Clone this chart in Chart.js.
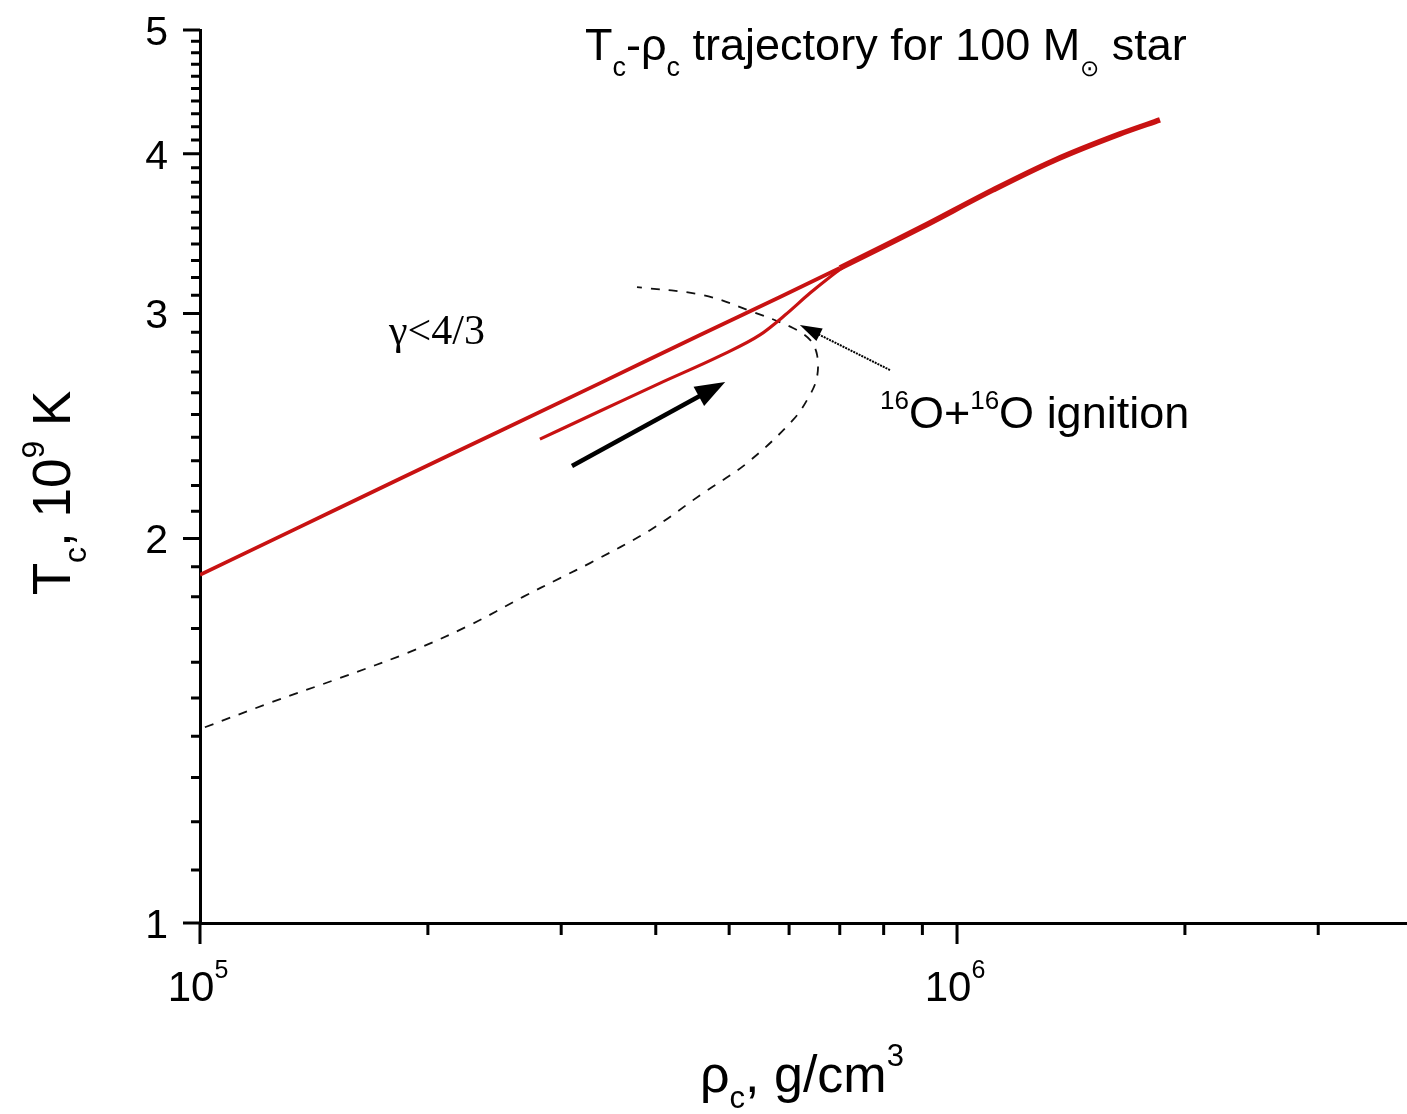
<!DOCTYPE html>
<html>
<head>
<meta charset="utf-8">
<title>Tc-rho_c trajectory</title>
<script src="https://cdn.jsdelivr.net/npm/chart.js@4.4.1/dist/chart.umd.min.js"></script>
<style>
  html, body { margin: 0; padding: 0; background: #ffffff; }
  #wrap { width: 1407px; height: 1114px; }
</style>
</head>
<body>
<div id="wrap"><canvas id="chart" width="1407" height="1114"></canvas></div>
<script>
"use strict";

// Central density (g/cm^3) and central temperature (10^9 K) along the main track
const trackRho = [1.0e5, 1.355e5, 1.837e5, 2.491e5, 3.377e5, 4.576e5, 5.837e5, 7.004e5, 8.936e5, 1.116e6, 1.339e6, 1.642e6, 1.854e6];
const trackT = [1.873, 2.042, 2.227, 2.427, 2.646, 2.886, 3.090, 3.256, 3.499, 3.748, 3.949, 4.146, 4.252];

// Second branch that rejoins the track near the ignition point
const loopRho = [2.812e5, 3.377e5, 4.053e5, 4.863e5, 5.491e5, 5.927e5, 6.395e5, 6.795e5, 7.112e5];
const loopT = [2.392, 2.516, 2.646, 2.779, 2.886, 2.991, 3.112, 3.204, 3.268];

// Boundary of the gamma < 4/3 region (dashed)
const gammaRho = [1.015e5, 1.237e5, 1.53e5, 1.894e5, 2.274e5, 2.671e5, 2.99e5, 3.275e5, 3.931e5, 4.618e5, 5.28e5, 6.072e5, 6.395e5, 6.533e5, 6.533e5, 6.395e5, 6.072e5, 5.377e5, 4.618e5, 3.778e5];
const gammaT = [1.423, 1.487, 1.555, 1.63, 1.711, 1.8, 1.862, 1.913, 2.03, 2.17, 2.291, 2.476, 2.591, 2.676, 2.784, 2.86, 2.922, 3.008, 3.101, 3.146];

// Axis ticks
const yMajorTicks = [1, 2, 3, 4, 5];
const xMajorTicks = [1e5, 1e6];
const xMajorExponents = ["5", "6"];
const xMinorTicks = [2e5, 3e5, 4e5, 5e5, 6e5, 7e5, 8e5, 9e5, 2e6, 3e6];

// Arrows, [rho, T] at tail and tip
const driftArrow = { from: [3.10e5, 2.279], to: [4.94e5, 2.651] };
const ignitionArrow = { from: [8.155e5, 2.709], to: [6.2e5, 2.938] };

const RED = "#c81212";
const SANS = '"Liberation Sans", Arial, sans-serif';
const SERIF = '"Liberation Serif", "Times New Roman", serif';

const toPoints = (xs, ys) => xs.map((v, i) => ({ x: v, y: ys[i] }));

// Draws a run of text pieces: [text, size factor, baseline shift in em]
function drawRich(ctx, x0, y0, parts, size, family, align) {
  const widths = parts.map((p) => {
    ctx.font = `${Math.round(size * p[1])}px ${family}`;
    return ctx.measureText(p[0]).width;
  });
  const total = widths.reduce((a, b) => a + b, 0);
  let x = x0;
  if (align === "center") x = x0 - total / 2;
  if (align === "right") x = x0 - total;
  parts.forEach((p, i) => {
    ctx.font = `${Math.round(size * p[1])}px ${family}`;
    ctx.fillText(p[0], x, y0 + p[2] * size);
    x += widths[i];
  });
}

function drawArrow(ctx, x0, y0, x1, y1, lineW, headLen, headHalf, dash) {
  const a = Math.atan2(y1 - y0, x1 - x0);
  const bx = x1 - headLen * Math.cos(a);
  const by = y1 - headLen * Math.sin(a);
  ctx.save();
  ctx.strokeStyle = "#000";
  ctx.fillStyle = "#000";
  ctx.lineWidth = lineW;
  ctx.setLineDash(dash || []);
  ctx.beginPath();
  ctx.moveTo(x0, y0);
  ctx.lineTo(bx + 2 * Math.cos(a), by + 2 * Math.sin(a));
  ctx.stroke();
  ctx.setLineDash([]);
  ctx.beginPath();
  ctx.moveTo(x1, y1);
  ctx.lineTo(bx + headHalf * Math.sin(a), by - headHalf * Math.cos(a));
  ctx.lineTo(bx - headHalf * Math.sin(a), by + headHalf * Math.cos(a));
  ctx.closePath();
  ctx.fill();
  ctx.restore();
}

const decorations = {
  id: "decorations",
  afterDraw(chart) {
    const { ctx } = chart;
    const x = chart.scales.x;
    const y = chart.scales.y;
    const left = chart.chartArea.left;
    const bottom = chart.chartArea.bottom;

    ctx.save();
    ctx.strokeStyle = "#000";
    ctx.lineWidth = 3;
    ctx.beginPath();
    // y ticks: majors plus nine minors per unit
    yMajorTicks.forEach((v, i) => {
      const py = y.getPixelForValue(v);
      ctx.moveTo(left - 17, py);
      ctx.lineTo(left, py);
      if (i < yMajorTicks.length - 1) {
        for (let k = 1; k < 10; k++) {
          const my = y.getPixelForValue(v + k / 10);
          ctx.moveTo(left - 9, my);
          ctx.lineTo(left, my);
        }
      }
    });
    xMajorTicks.forEach((v) => {
      const px = x.getPixelForValue(v);
      ctx.moveTo(px, bottom);
      ctx.lineTo(px, bottom + 21);
    });
    xMinorTicks.forEach((v) => {
      const px = x.getPixelForValue(v);
      ctx.moveTo(px, bottom);
      ctx.lineTo(px, bottom + 12);
    });
    ctx.stroke();

    ctx.fillStyle = "#000";
    ctx.textBaseline = "alphabetic";

    // tick labels
    ctx.font = `41px ${SANS}`;
    ctx.textAlign = "right";
    yMajorTicks.forEach((v) => {
      ctx.fillText(String(v), 168, y.getPixelForValue(v) + 15);
    });
    ctx.textAlign = "left";
    xMajorTicks.forEach((v, i) => {
      drawRich(ctx, x.getPixelForValue(v) - 2, 1001, [["10", 1, 0], [xMajorExponents[i], 0.6, -0.55]], 42, SANS, "center");
    });

    // axis titles
    drawRich(ctx, 700, 1092, [["\u03c1", 1, 0], ["c", 0.6, 0.3], [", g/cm", 1, 0], ["3", 0.6, -0.5]], 52, SANS, "left");
    ctx.save();
    ctx.translate(70, 493);
    ctx.rotate(-Math.PI / 2);
    drawRich(ctx, 0, 0, [["T", 1, 0], ["c", 0.6, 0.3], [", 10", 1, 0], ["9", 0.6, -0.5], [" K", 1, 0]], 53, SANS, "center");
    ctx.restore();

    // title
    drawRich(ctx, 585, 60, [["T", 1, 0], ["c", 0.6, 0.35], ["-\u03c1", 1, 0], ["c", 0.6, 0.35], [" trajectory for 100 M", 1, 0], ["\u2299", 0.5, 0.35], [" star", 1, 0]], 45, SANS, "left");

    // annotations
    ctx.font = `42px ${SERIF}`;
    ctx.fillText("\u03b3<4/3", 389, 344);
    drawRich(ctx, 880, 428, [["16", 0.58, -0.42], ["O+", 1, 0], ["16", 0.58, -0.42], ["O ignition", 1, 0]], 44.5, SANS, "left");

    drawArrow(ctx,
      x.getPixelForValue(driftArrow.from[0]), y.getPixelForValue(driftArrow.from[1]),
      x.getPixelForValue(driftArrow.to[0]), y.getPixelForValue(driftArrow.to[1]),
      4.5, 30, 11);
    drawArrow(ctx,
      x.getPixelForValue(ignitionArrow.from[0]), y.getPixelForValue(ignitionArrow.from[1]),
      x.getPixelForValue(ignitionArrow.to[0]), y.getPixelForValue(ignitionArrow.to[1]),
      2, 22, 7, [2, 1]);
    ctx.restore();
  },
};

new Chart(document.getElementById("chart"), {
  type: "line",
  data: {
    datasets: [
      {
        data: toPoints(trackRho, trackT),
        borderColor: RED,
        borderWidth: 3.8,
        cubicInterpolationMode: "monotone",
        pointRadius: 0,
        segment: {
          borderWidth: (c) => (c.p0.parsed.x >= 7e5 ? 5.5 : 3.8),
        },
      },
      {
        data: toPoints(loopRho, loopT),
        borderColor: RED,
        borderWidth: 3.2,
        cubicInterpolationMode: "monotone",
        pointRadius: 0,
      },
      {
        data: toPoints(gammaRho, gammaT),
        borderColor: "#111",
        borderWidth: 1.8,
        borderDash: [9, 9],
        tension: 0.35,
        pointRadius: 0,
      },
    ],
  },
  options: {
    responsive: false,
    animation: false,
    devicePixelRatio: 1,
    layout: { padding: { top: 30, right: 0, bottom: 0, left: 0 } },
    plugins: { legend: { display: false }, tooltip: { enabled: false }, title: { display: false } },
    scales: {
      x: {
        type: "logarithmic",
        min: 1e5,
        max: 3.93e6,
        grid: { display: false },
        ticks: { display: false },
        border: { display: true, color: "#000", width: 3 },
        afterFit: (scale) => { scale.height = 191; },
      },
      y: {
        type: "logarithmic",
        min: 1,
        max: 5,
        grid: { display: false },
        ticks: { display: false },
        border: { display: true, color: "#000", width: 3 },
        afterFit: (scale) => { scale.width = 200; },
      },
    },
  },
  plugins: [decorations],
});
</script>
</body>
</html>
